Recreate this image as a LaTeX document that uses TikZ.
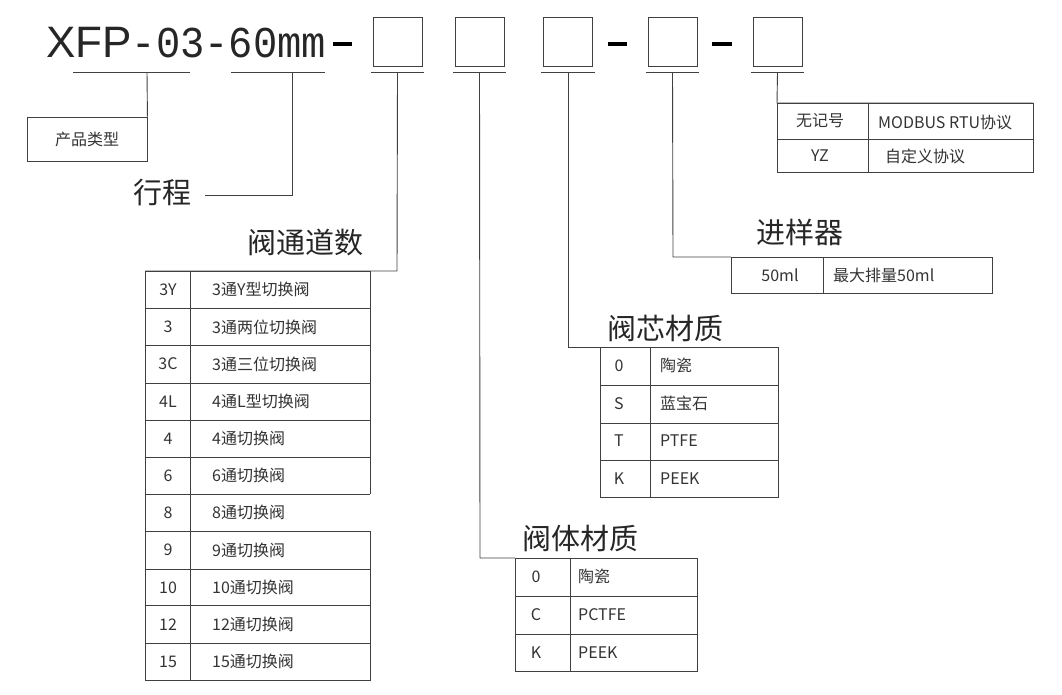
\documentclass[tikz,border=0pt]{standalone}
\usepackage{fontspec}
\setmainfont{Liberation Serif}
\setmonofont{Liberation Mono}
\newfontfamily\cjk{Noto Sans CJK SC}
\newfontfamily\hdsans{Liberation Sans}
\usetikzlibrary{positioning}
\tikzset{
  thin line/.style={draw=black!75, line width=0.9pt},
  box/.style={thin line, minimum width=49pt, minimum height=49pt, inner sep=0pt},
  bold dash/.style={line width=4pt},
  cell/.style={font=\fontsize{16}{16}\selectfont\cjk, text=black!80, inner sep=0pt},
  label/.style={font=\fontsize{29}{29}\selectfont\cjk, text=black!85, inner sep=0pt}
}
\newcommand{\rowlines}[3]{% x1, x2, list of y
  \foreach \yy in {#3} \draw[thin line] (#1,\yy) -- (#2,\yy);}
\begin{document}
\begin{tikzpicture}[x=1pt, y=-1pt]
    \useasboundingbox (0,0) rectangle (1062,695);

    % code line
    \node[anchor=base west, inner sep=0pt, text=black!85] (code) at (46,58)
        {\fontsize{44}{44}\selectfont\hdsans XFP\scalebox{0.92}[1]{\ttfamily -03-60mm}};
    \draw[bold dash] (333,44) -- (352,44);
    \node[box] (b1) at (397.5,41.5) {};
    \node[box] (b2) at (479.5,41.5) {};
    \node[box] (b3) at (568,41.5) {};
    \draw[bold dash] (608,44) -- (627,44);
    \node[box] (b4) at (672.5,41.5) {};
    \draw[bold dash] (712,44) -- (732,44);
    \node[box] (b5) at (777.5,41.5) {};

    % underlines
    \draw[thin line] (73,72) -- (190,72);
    \draw[thin line] (231,72) -- (325,72);
    \foreach \b in {b1,b2,b3,b4,b5}
        \draw[thin line] ([xshift=-2pt,yshift=-6pt]\b.south west) -- ([xshift=2pt,yshift=-6pt]\b.south east);

    % product type
    \node[thin line, cell, minimum width=120pt, minimum height=44pt] (type) at (87,139) {产品类型};
    \draw[thin line] (type.north east) -- (147,72);

    % stroke
    \node[label] (stroke) at (162,193) {行程};
    \draw[thin line] (205,195) -- (292,195) -- (292,72);

    % channels
    \node[label] (chan) at (305,242) {阀通道数};
    \coordinate (t1) at (145,271);
    \draw[thin line] ([yshift=-6pt]b1.south) -- (397,271) -- (t1);
    \draw[thin line] (145,271) -- (145,680) -- (370,680) -- (370,531);
    \draw[thin line] (370,494) -- (370,271);
    \draw[thin line] (190,271) -- (190,680);
    \rowlines{145}{370}{271,308,345,383,420,457,494,531,569,605,643}
    \foreach \k/\v [count=\i] in {3Y/3通Y型切换阀, 3/3通两位切换阀, 3C/3通三位切换阀,
        4L/4通L型切换阀, 4/4通切换阀, 6/6通切换阀, 8/8通切换阀, 9/9通切换阀,
        10/10通切换阀, 12/12通切换阀, 15/15通切换阀} {
        \node[cell] at (168,252.5+37.2*\i) {\k};
        \node[cell, anchor=west] at (212,252.5+37.2*\i) {\v};
    }

    % valve body
    \node[label] (body) at (580,538) {阀体材质};
    \draw[thin line] ([yshift=-6pt]b2.south) -- (480,558) -- (515,558);
    \draw[thin line] (515,558) rectangle (697,671);
    \draw[thin line] (570,558) -- (570,671);
    \rowlines{515}{697}{596,634}
    \foreach \k/\v [count=\i] in {0/陶瓷, C/PCTFE, K/PEEK} {
        \node[cell] at (536,558+37.7*\i-18.8) {\k};
        \node[cell, anchor=west] at (578,558+37.7*\i-18.8) {\v};
    }

    % valve core
    \node[label] (core) at (665,328) {阀芯材质};
    \draw[thin line] ([yshift=-6pt]b3.south) -- (568,347) -- (600,347);
    \draw[thin line] (600,347) rectangle (778,497);
    \draw[thin line] (650,347) -- (650,497);
    \rowlines{600}{778}{385,423,460}
    \foreach \k/\v [count=\i] in {0/陶瓷, S/蓝宝石, T/PTFE, K/PEEK} {
        \node[cell] at (619,347+37.5*\i-18.7) {\k};
        \node[cell, anchor=west] at (660,347+37.5*\i-18.7) {\v};
    }

    % sampler
    \node[label] (sampler) at (800,232) {进样器};
    \draw[thin line] ([yshift=-6pt]b4.south) -- (673,257) -- (731,257);
    \draw[thin line] (731,257) rectangle (992,293);
    \draw[thin line] (823,257) -- (823,293);
    \node[cell] at (780,275) {50ml};
    \node[cell, anchor=west] at (833,275) {最大排量50ml};

    % protocol
    \draw[thin line] ([yshift=-6pt]b5.south) -- (777,103) -- (1033,103);
    \draw[thin line] (777,103) rectangle (1033,172);
    \draw[thin line] (868,103) -- (868,172);
    \draw[thin line] (777,139) -- (1033,139);
    \node[cell] at (820,121) {无记号};
    \node[cell, anchor=west] at (878,122) {MODBUS RTU协议};
    \node[cell] at (820,156) {YZ};
    \node[cell, anchor=west] at (885,156) {自定义协议};
\end{tikzpicture}
\end{document}
